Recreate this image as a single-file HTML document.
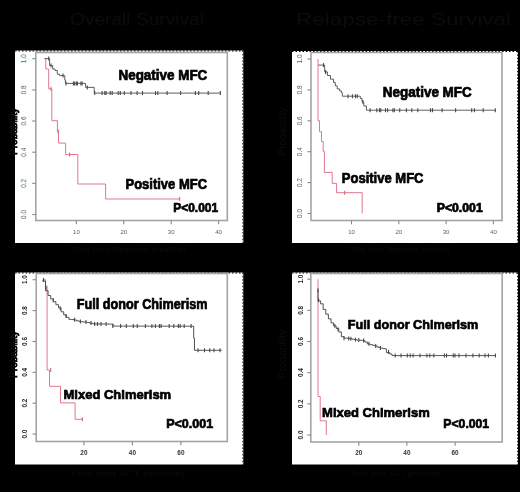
<!DOCTYPE html>
<html><head><meta charset="utf-8"><title>Survival curves</title>
<style>html,body{margin:0;padding:0;background:#000;width:520px;height:492px;overflow:hidden;font-family:"Liberation Sans",sans-serif;}svg{display:block;filter:blur(0.35px);}</style>
</head><body>
<svg width="520" height="492" viewBox="0 0 520 492" font-family="Liberation Sans, sans-serif"><rect x="15.0" y="50.5" width="228.3" height="192.5" fill="#fff"/><line x1="15.0" y1="51.0" x2="243.3" y2="51.0" stroke="#000" stroke-width="1.1" stroke-dasharray="1.6 1.9"/><line x1="242.9" y1="50.5" x2="242.9" y2="243.0" stroke="#000" stroke-width="0.9" stroke-dasharray="1.6 1.7"/><rect x="35.8" y="52.5" width="191.5" height="168.0" fill="none" stroke="#a4a4a4" stroke-width="1.6"/><line x1="32.2" y1="214.5" x2="35.8" y2="214.5" stroke="#888" stroke-width="1.1"/><text transform="translate(25.5 214.5) rotate(-90)" text-anchor="middle" font-size="6.4" fill="#5e5e5e">0.0</text><line x1="32.2" y1="183.3" x2="35.8" y2="183.3" stroke="#888" stroke-width="1.1"/><text transform="translate(25.5 183.3) rotate(-90)" text-anchor="middle" font-size="6.4" fill="#5e5e5e">0.2</text><line x1="32.2" y1="152.2" x2="35.8" y2="152.2" stroke="#888" stroke-width="1.1"/><text transform="translate(25.5 152.2) rotate(-90)" text-anchor="middle" font-size="6.4" fill="#5e5e5e">0.4</text><line x1="32.2" y1="121.0" x2="35.8" y2="121.0" stroke="#888" stroke-width="1.1"/><text transform="translate(25.5 121.0) rotate(-90)" text-anchor="middle" font-size="6.4" fill="#5e5e5e">0.6</text><line x1="32.2" y1="89.9" x2="35.8" y2="89.9" stroke="#888" stroke-width="1.1"/><text transform="translate(25.5 89.9) rotate(-90)" text-anchor="middle" font-size="6.4" fill="#5e5e5e">0.8</text><line x1="32.2" y1="58.7" x2="35.8" y2="58.7" stroke="#888" stroke-width="1.1"/><text transform="translate(25.5 58.7) rotate(-90)" text-anchor="middle" font-size="6.4" fill="#5e5e5e">1.0</text><line x1="76.4" y1="220.5" x2="76.4" y2="224.3" stroke="#888" stroke-width="1.1"/><text x="76.4" y="234.0" text-anchor="middle" font-size="6.0" fill="#5e5e5e">10</text><line x1="123.8" y1="220.5" x2="123.8" y2="224.3" stroke="#888" stroke-width="1.1"/><text x="123.8" y="234.0" text-anchor="middle" font-size="6.0" fill="#5e5e5e">20</text><line x1="171.2" y1="220.5" x2="171.2" y2="224.3" stroke="#888" stroke-width="1.1"/><text x="171.2" y="234.0" text-anchor="middle" font-size="6.0" fill="#5e5e5e">30</text><line x1="218.6" y1="220.5" x2="218.6" y2="224.3" stroke="#888" stroke-width="1.1"/><text x="218.6" y="234.0" text-anchor="middle" font-size="6.0" fill="#5e5e5e">40</text><path d="M44.6 58.6 H45.8 V69.0 H48.7 V88.8 H51.8 V120.7 H57.4 V131.5 H58.5 V143.1 H65.6 V154.5 H77.8 V184.0 H105.6 V199.0 H179.6" fill="none" stroke="#de7286" stroke-width="0.95"/><path d="M44.6 58.6 H49.6 V65.5 H52.7 V69.0 H55.0 V70.5 H57.3 V74.2 H59.6 V75.6 H64.8 V80.0 H65.4 V83.4 H85.6 V87.4 H94.2 V93.1 H221.0" fill="none" stroke="#555555" stroke-width="0.95"/><line x1="48.7" y1="56.6" x2="48.7" y2="60.6" stroke="#4a4a4a" stroke-width="1.1"/><line x1="51.0" y1="63.5" x2="51.0" y2="67.5" stroke="#4a4a4a" stroke-width="1.1"/><line x1="63.0" y1="73.6" x2="63.0" y2="77.6" stroke="#4a4a4a" stroke-width="1.1"/><line x1="66.0" y1="81.4" x2="66.0" y2="85.4" stroke="#4a4a4a" stroke-width="1.1"/><line x1="73.4" y1="81.4" x2="73.4" y2="85.4" stroke="#4a4a4a" stroke-width="1.1"/><line x1="74.6" y1="81.4" x2="74.6" y2="85.4" stroke="#4a4a4a" stroke-width="1.1"/><line x1="76.4" y1="81.4" x2="76.4" y2="85.4" stroke="#4a4a4a" stroke-width="1.1"/><line x1="77.4" y1="81.4" x2="77.4" y2="85.4" stroke="#4a4a4a" stroke-width="1.1"/><line x1="80.9" y1="81.4" x2="80.9" y2="85.4" stroke="#4a4a4a" stroke-width="1.1"/><line x1="82.1" y1="81.4" x2="82.1" y2="85.4" stroke="#4a4a4a" stroke-width="1.1"/><line x1="87.3" y1="85.4" x2="87.3" y2="89.4" stroke="#4a4a4a" stroke-width="1.1"/><line x1="94.7" y1="91.1" x2="94.7" y2="95.1" stroke="#4a4a4a" stroke-width="1.1"/><line x1="102.1" y1="91.1" x2="102.1" y2="95.1" stroke="#4a4a4a" stroke-width="1.1"/><line x1="104.8" y1="91.1" x2="104.8" y2="95.1" stroke="#4a4a4a" stroke-width="1.1"/><line x1="106.1" y1="91.1" x2="106.1" y2="95.1" stroke="#4a4a4a" stroke-width="1.1"/><line x1="110.2" y1="91.1" x2="110.2" y2="95.1" stroke="#4a4a4a" stroke-width="1.1"/><line x1="112.2" y1="91.1" x2="112.2" y2="95.1" stroke="#4a4a4a" stroke-width="1.1"/><line x1="118.2" y1="91.1" x2="118.2" y2="95.1" stroke="#4a4a4a" stroke-width="1.1"/><line x1="120.3" y1="91.1" x2="120.3" y2="95.1" stroke="#4a4a4a" stroke-width="1.1"/><line x1="124.3" y1="91.1" x2="124.3" y2="95.1" stroke="#4a4a4a" stroke-width="1.1"/><line x1="131.0" y1="91.1" x2="131.0" y2="95.1" stroke="#4a4a4a" stroke-width="1.1"/><line x1="137.1" y1="91.1" x2="137.1" y2="95.1" stroke="#4a4a4a" stroke-width="1.1"/><line x1="142.5" y1="91.1" x2="142.5" y2="95.1" stroke="#4a4a4a" stroke-width="1.1"/><line x1="155.5" y1="91.1" x2="155.5" y2="95.1" stroke="#4a4a4a" stroke-width="1.1"/><line x1="157.8" y1="91.1" x2="157.8" y2="95.1" stroke="#4a4a4a" stroke-width="1.1"/><line x1="167.1" y1="91.1" x2="167.1" y2="95.1" stroke="#4a4a4a" stroke-width="1.1"/><line x1="180.6" y1="91.1" x2="180.6" y2="95.1" stroke="#4a4a4a" stroke-width="1.1"/><line x1="195.4" y1="91.1" x2="195.4" y2="95.1" stroke="#4a4a4a" stroke-width="1.1"/><line x1="198.7" y1="91.1" x2="198.7" y2="95.1" stroke="#4a4a4a" stroke-width="1.1"/><line x1="208.2" y1="91.1" x2="208.2" y2="95.1" stroke="#4a4a4a" stroke-width="1.1"/><line x1="220.3" y1="91.1" x2="220.3" y2="95.1" stroke="#4a4a4a" stroke-width="1.1"/><line x1="51.0" y1="86.8" x2="51.0" y2="90.8" stroke="#d06a7e" stroke-width="1.1"/><line x1="58.2" y1="129.5" x2="58.2" y2="133.5" stroke="#d06a7e" stroke-width="1.1"/><line x1="69.6" y1="152.5" x2="69.6" y2="156.5" stroke="#d06a7e" stroke-width="1.1"/><line x1="179.6" y1="197.0" x2="179.6" y2="201.0" stroke="#d06a7e" stroke-width="1.1"/><text x="118.48" y="80.40" font-size="14.00" font-weight="bold" textLength="88.84" lengthAdjust="spacingAndGlyphs" fill="#000" stroke="#000" stroke-width="0.70">Negative MFC</text><text x="125.51" y="188.90" font-size="14.00" font-weight="bold" textLength="81.52" lengthAdjust="spacingAndGlyphs" fill="#000" stroke="#000" stroke-width="0.70">Positive MFC</text><text x="173.27" y="212.00" font-size="12.60" font-weight="bold" textLength="44.82" lengthAdjust="spacingAndGlyphs" fill="#000" stroke="#000" stroke-width="0.70">P&lt;0.001</text><rect x="292.0" y="51.0" width="226.0" height="192.0" fill="#fff"/><line x1="292.0" y1="51.5" x2="518.0" y2="51.5" stroke="#000" stroke-width="1.1" stroke-dasharray="1.6 1.9"/><line x1="517.6" y1="51.0" x2="517.6" y2="243.0" stroke="#000" stroke-width="0.9" stroke-dasharray="1.6 1.7"/><rect x="311.0" y="52.5" width="191.0" height="168.0" fill="none" stroke="#a4a4a4" stroke-width="1.6"/><line x1="307.4" y1="213.5" x2="311.0" y2="213.5" stroke="#888" stroke-width="1.1"/><text transform="translate(301.5 213.5) rotate(-90)" text-anchor="middle" font-size="6.4" fill="#5e5e5e">0.0</text><line x1="307.4" y1="182.6" x2="311.0" y2="182.6" stroke="#888" stroke-width="1.1"/><text transform="translate(301.5 182.6) rotate(-90)" text-anchor="middle" font-size="6.4" fill="#5e5e5e">0.2</text><line x1="307.4" y1="151.7" x2="311.0" y2="151.7" stroke="#888" stroke-width="1.1"/><text transform="translate(301.5 151.7) rotate(-90)" text-anchor="middle" font-size="6.4" fill="#5e5e5e">0.4</text><line x1="307.4" y1="120.8" x2="311.0" y2="120.8" stroke="#888" stroke-width="1.1"/><text transform="translate(301.5 120.8) rotate(-90)" text-anchor="middle" font-size="6.4" fill="#5e5e5e">0.6</text><line x1="307.4" y1="89.9" x2="311.0" y2="89.9" stroke="#888" stroke-width="1.1"/><text transform="translate(301.5 89.9) rotate(-90)" text-anchor="middle" font-size="6.4" fill="#5e5e5e">0.8</text><line x1="307.4" y1="59.0" x2="311.0" y2="59.0" stroke="#888" stroke-width="1.1"/><text transform="translate(301.5 59.0) rotate(-90)" text-anchor="middle" font-size="6.4" fill="#5e5e5e">1.0</text><line x1="351.5" y1="220.5" x2="351.5" y2="224.3" stroke="#888" stroke-width="1.1"/><text x="351.5" y="234.0" text-anchor="middle" font-size="6.0" fill="#5e5e5e">10</text><line x1="398.8" y1="220.5" x2="398.8" y2="224.3" stroke="#888" stroke-width="1.1"/><text x="398.8" y="234.0" text-anchor="middle" font-size="6.0" fill="#5e5e5e">20</text><line x1="446.1" y1="220.5" x2="446.1" y2="224.3" stroke="#888" stroke-width="1.1"/><text x="446.1" y="234.0" text-anchor="middle" font-size="6.0" fill="#5e5e5e">30</text><line x1="493.4" y1="220.5" x2="493.4" y2="224.3" stroke="#888" stroke-width="1.1"/><text x="493.4" y="234.0" text-anchor="middle" font-size="6.0" fill="#5e5e5e">40</text><path d="M318.0 59.0 V120.7 H319.5 V131.7 H321.5 V141.5 H323.2 V151.2 H324.4 V172.4 H332.2 V183.4 H336.6 V192.7 H362.2 V213.4" fill="none" stroke="#de7286" stroke-width="0.95"/><path d="M318.3 65.1 H324.7 V71.9 H327.4 V75.5 H330.5 V79.2 H333.5 V82.5 H335.3 V85.9 H337.2 V88.9 H339.6 V90.8 H341.4 V92.6 H342.3 V96.2 H360.3 V98.5 H362.0 V101.7 H363.8 V106.0 H366.4 V110.2 H496.0" fill="none" stroke="#555555" stroke-width="0.95"/><line x1="323.5" y1="63.1" x2="323.5" y2="67.1" stroke="#4a4a4a" stroke-width="1.1"/><line x1="325.6" y1="70.0" x2="325.6" y2="74.0" stroke="#4a4a4a" stroke-width="1.1"/><line x1="348.1" y1="94.2" x2="348.1" y2="98.2" stroke="#4a4a4a" stroke-width="1.1"/><line x1="352.4" y1="94.2" x2="352.4" y2="98.2" stroke="#4a4a4a" stroke-width="1.1"/><line x1="355.5" y1="94.2" x2="355.5" y2="98.2" stroke="#4a4a4a" stroke-width="1.1"/><line x1="357.3" y1="94.2" x2="357.3" y2="98.2" stroke="#4a4a4a" stroke-width="1.1"/><line x1="362.8" y1="99.7" x2="362.8" y2="103.7" stroke="#4a4a4a" stroke-width="1.1"/><line x1="370.1" y1="108.2" x2="370.1" y2="112.2" stroke="#4a4a4a" stroke-width="1.1"/><line x1="376.8" y1="108.2" x2="376.8" y2="112.2" stroke="#4a4a4a" stroke-width="1.1"/><line x1="379.5" y1="108.2" x2="379.5" y2="112.2" stroke="#4a4a4a" stroke-width="1.1"/><line x1="380.8" y1="108.2" x2="380.8" y2="112.2" stroke="#4a4a4a" stroke-width="1.1"/><line x1="385.5" y1="108.2" x2="385.5" y2="112.2" stroke="#4a4a4a" stroke-width="1.1"/><line x1="387.6" y1="108.2" x2="387.6" y2="112.2" stroke="#4a4a4a" stroke-width="1.1"/><line x1="392.9" y1="108.2" x2="392.9" y2="112.2" stroke="#4a4a4a" stroke-width="1.1"/><line x1="394.3" y1="108.2" x2="394.3" y2="112.2" stroke="#4a4a4a" stroke-width="1.1"/><line x1="399.7" y1="108.2" x2="399.7" y2="112.2" stroke="#4a4a4a" stroke-width="1.1"/><line x1="406.4" y1="108.2" x2="406.4" y2="112.2" stroke="#4a4a4a" stroke-width="1.1"/><line x1="411.8" y1="108.2" x2="411.8" y2="112.2" stroke="#4a4a4a" stroke-width="1.1"/><line x1="417.8" y1="108.2" x2="417.8" y2="112.2" stroke="#4a4a4a" stroke-width="1.1"/><line x1="430.5" y1="108.2" x2="430.5" y2="112.2" stroke="#4a4a4a" stroke-width="1.1"/><line x1="432.5" y1="108.2" x2="432.5" y2="112.2" stroke="#4a4a4a" stroke-width="1.1"/><line x1="442.1" y1="108.2" x2="442.1" y2="112.2" stroke="#4a4a4a" stroke-width="1.1"/><line x1="455.6" y1="108.2" x2="455.6" y2="112.2" stroke="#4a4a4a" stroke-width="1.1"/><line x1="471.7" y1="108.2" x2="471.7" y2="112.2" stroke="#4a4a4a" stroke-width="1.1"/><line x1="474.4" y1="108.2" x2="474.4" y2="112.2" stroke="#4a4a4a" stroke-width="1.1"/><line x1="483.2" y1="108.2" x2="483.2" y2="112.2" stroke="#4a4a4a" stroke-width="1.1"/><line x1="495.3" y1="108.2" x2="495.3" y2="112.2" stroke="#4a4a4a" stroke-width="1.1"/><line x1="344.6" y1="190.7" x2="344.6" y2="194.7" stroke="#d06a7e" stroke-width="1.1"/><text x="382.78" y="96.70" font-size="14.00" font-weight="bold" textLength="88.99" lengthAdjust="spacingAndGlyphs" fill="#000" stroke="#000" stroke-width="0.70">Negative MFC</text><text x="341.80" y="182.90" font-size="14.00" font-weight="bold" textLength="81.72" lengthAdjust="spacingAndGlyphs" fill="#000" stroke="#000" stroke-width="0.70">Positive MFC</text><text x="436.75" y="211.90" font-size="12.20" font-weight="bold" textLength="45.94" lengthAdjust="spacingAndGlyphs" fill="#000" stroke="#000" stroke-width="0.70">P&lt;0.001</text><rect x="15.0" y="272.5" width="228.3" height="192.0" fill="#fff"/><line x1="15.0" y1="273.0" x2="243.3" y2="273.0" stroke="#000" stroke-width="1.1" stroke-dasharray="1.6 1.9"/><line x1="242.9" y1="272.5" x2="242.9" y2="464.5" stroke="#000" stroke-width="0.9" stroke-dasharray="1.6 1.7"/><rect x="36.2" y="273.5" width="191.1" height="168.0" fill="none" stroke="#a4a4a4" stroke-width="1.6"/><line x1="32.6" y1="434.1" x2="36.2" y2="434.1" stroke="#888" stroke-width="1.1"/><text transform="translate(27.4 434.1) rotate(-90)" text-anchor="middle" font-size="7.8" font-weight="bold" textLength="8.8" lengthAdjust="spacingAndGlyphs" fill="#222">0.0</text><line x1="32.6" y1="403.2" x2="36.2" y2="403.2" stroke="#888" stroke-width="1.1"/><text transform="translate(27.4 403.2) rotate(-90)" text-anchor="middle" font-size="7.8" font-weight="bold" textLength="8.8" lengthAdjust="spacingAndGlyphs" fill="#222">0.2</text><line x1="32.6" y1="372.3" x2="36.2" y2="372.3" stroke="#888" stroke-width="1.1"/><text transform="translate(27.4 372.3) rotate(-90)" text-anchor="middle" font-size="7.8" font-weight="bold" textLength="8.8" lengthAdjust="spacingAndGlyphs" fill="#222">0.4</text><line x1="32.6" y1="341.5" x2="36.2" y2="341.5" stroke="#888" stroke-width="1.1"/><text transform="translate(27.4 341.5) rotate(-90)" text-anchor="middle" font-size="7.8" font-weight="bold" textLength="8.8" lengthAdjust="spacingAndGlyphs" fill="#222">0.6</text><line x1="32.6" y1="310.6" x2="36.2" y2="310.6" stroke="#888" stroke-width="1.1"/><text transform="translate(27.4 310.6) rotate(-90)" text-anchor="middle" font-size="7.8" font-weight="bold" textLength="8.8" lengthAdjust="spacingAndGlyphs" fill="#222">0.8</text><line x1="32.6" y1="279.7" x2="36.2" y2="279.7" stroke="#888" stroke-width="1.1"/><text transform="translate(27.4 279.7) rotate(-90)" text-anchor="middle" font-size="7.8" font-weight="bold" textLength="8.8" lengthAdjust="spacingAndGlyphs" fill="#222">1.0</text><line x1="83.9" y1="441.5" x2="83.9" y2="445.3" stroke="#888" stroke-width="1.1"/><text x="83.9" y="454.9" text-anchor="middle" font-size="6.4" font-weight="bold" fill="#333">20</text><line x1="132.4" y1="441.5" x2="132.4" y2="445.3" stroke="#888" stroke-width="1.1"/><text x="132.4" y="454.9" text-anchor="middle" font-size="6.4" font-weight="bold" fill="#333">40</text><line x1="180.9" y1="441.5" x2="180.9" y2="445.3" stroke="#888" stroke-width="1.1"/><text x="180.9" y="454.9" text-anchor="middle" font-size="6.4" font-weight="bold" fill="#333">60</text><path d="M42.9 279.7 H45.5 V286.0 H47.1 V370.0 H49.5 V386.3 H60.5 V402.9 H75.1 V419.3 H82.4" fill="none" stroke="#de7286" stroke-width="0.95"/><path d="M42.90 280.00 V281.15 H45.50 V290.76 H48.10 V295.50 H50.70 V298.90 H53.30 V301.69 H55.90 V304.69 H58.50 V307.82 H61.10 V311.79 H63.70 V314.86 H66.30 V317.31 H68.90 V319.32 H71.50 V319.60 H74.10 V320.05 H76.70 V320.86 H79.30 V321.62 H81.90 V321.85 H84.50 V322.07 H87.10 V322.58 H89.70 V323.11 H92.30 V323.68 H94.90 V323.92 H97.50 V323.95 H100.10 V323.98 H102.70 V324.01 H105.30 V324.04 H107.90 V324.07 H110.50 V324.10 H113.10 V326.10 H115.70 V326.11 H118.30 V326.11 H120.90 V326.11 H123.50 V326.12 H126.10 V326.12 H128.70 V326.12 H131.30 V326.12 H133.90 V326.13 H136.50 V326.13 H139.10 V326.13 H141.70 V326.14 H144.30 V326.14 H146.90 V326.14 H149.50 V326.15 H152.10 V326.15 H154.70 V326.15 H157.30 V326.16 H159.90 V326.16 H162.50 V326.16 H165.10 V326.17 H167.70 V326.17 H170.30 V326.17 H172.90 V326.18 H175.50 V326.18 H178.10 V326.18 H180.70 V326.19 H183.30 V326.19 H185.90 V326.19 H188.50 V326.20 H191.10 V326.20 H193.70 V326.20 H193.70 V326.20 V338.2 H194.5 V350.3 H221.8" fill="none" stroke="#4a4a4a" stroke-width="0.95"/><line x1="43.5" y1="278.0" x2="43.5" y2="282.0" stroke="#4a4a4a" stroke-width="1.1"/><line x1="46.0" y1="286.5" x2="46.0" y2="290.5" stroke="#4a4a4a" stroke-width="1.1"/><line x1="53.3" y1="298.2" x2="53.3" y2="302.2" stroke="#4a4a4a" stroke-width="1.1"/><line x1="60.2" y1="306.3" x2="60.2" y2="310.3" stroke="#4a4a4a" stroke-width="1.1"/><line x1="66.0" y1="314.0" x2="66.0" y2="318.0" stroke="#4a4a4a" stroke-width="1.1"/><line x1="74.6" y1="317.8" x2="74.6" y2="321.8" stroke="#4a4a4a" stroke-width="1.1"/><line x1="80.4" y1="319.6" x2="80.4" y2="323.6" stroke="#4a4a4a" stroke-width="1.1"/><line x1="86.0" y1="320.1" x2="86.0" y2="324.1" stroke="#4a4a4a" stroke-width="1.1"/><line x1="91.0" y1="321.0" x2="91.0" y2="325.0" stroke="#4a4a4a" stroke-width="1.1"/><line x1="94.6" y1="322.0" x2="94.6" y2="326.0" stroke="#4a4a4a" stroke-width="1.1"/><line x1="97.5" y1="322.0" x2="97.5" y2="326.0" stroke="#4a4a4a" stroke-width="1.1"/><line x1="101.0" y1="322.0" x2="101.0" y2="326.0" stroke="#4a4a4a" stroke-width="1.1"/><line x1="106.1" y1="322.0" x2="106.1" y2="326.0" stroke="#4a4a4a" stroke-width="1.1"/><line x1="112.8" y1="324.1" x2="112.8" y2="328.1" stroke="#4a4a4a" stroke-width="1.1"/><line x1="120.6" y1="324.1" x2="120.6" y2="328.1" stroke="#4a4a4a" stroke-width="1.1"/><line x1="126.3" y1="324.1" x2="126.3" y2="328.1" stroke="#4a4a4a" stroke-width="1.1"/><line x1="133.3" y1="324.1" x2="133.3" y2="328.1" stroke="#4a4a4a" stroke-width="1.1"/><line x1="137.3" y1="324.1" x2="137.3" y2="328.1" stroke="#4a4a4a" stroke-width="1.1"/><line x1="145.4" y1="324.1" x2="145.4" y2="328.1" stroke="#4a4a4a" stroke-width="1.1"/><line x1="151.9" y1="324.1" x2="151.9" y2="328.1" stroke="#4a4a4a" stroke-width="1.1"/><line x1="155.4" y1="324.1" x2="155.4" y2="328.1" stroke="#4a4a4a" stroke-width="1.1"/><line x1="159.4" y1="324.1" x2="159.4" y2="328.1" stroke="#4a4a4a" stroke-width="1.1"/><line x1="161.1" y1="324.1" x2="161.1" y2="328.1" stroke="#4a4a4a" stroke-width="1.1"/><line x1="169.2" y1="324.1" x2="169.2" y2="328.1" stroke="#4a4a4a" stroke-width="1.1"/><line x1="173.8" y1="324.1" x2="173.8" y2="328.1" stroke="#4a4a4a" stroke-width="1.1"/><line x1="178.4" y1="324.1" x2="178.4" y2="328.1" stroke="#4a4a4a" stroke-width="1.1"/><line x1="180.2" y1="324.1" x2="180.2" y2="328.1" stroke="#4a4a4a" stroke-width="1.1"/><line x1="184.2" y1="324.1" x2="184.2" y2="328.1" stroke="#4a4a4a" stroke-width="1.1"/><line x1="191.1" y1="324.1" x2="191.1" y2="328.1" stroke="#4a4a4a" stroke-width="1.1"/><line x1="198.0" y1="348.3" x2="198.0" y2="352.3" stroke="#4a4a4a" stroke-width="1.1"/><line x1="204.5" y1="348.3" x2="204.5" y2="352.3" stroke="#4a4a4a" stroke-width="1.1"/><line x1="209.7" y1="348.3" x2="209.7" y2="352.3" stroke="#4a4a4a" stroke-width="1.1"/><line x1="214.0" y1="348.3" x2="214.0" y2="352.3" stroke="#4a4a4a" stroke-width="1.1"/><line x1="220.0" y1="348.3" x2="220.0" y2="352.3" stroke="#4a4a4a" stroke-width="1.1"/><line x1="50.7" y1="368.0" x2="50.7" y2="372.0" stroke="#d06a7e" stroke-width="1.1"/><line x1="82.4" y1="417.3" x2="82.4" y2="421.3" stroke="#d06a7e" stroke-width="1.1"/><text x="76.83" y="308.60" font-size="14.00" font-weight="bold" textLength="130.73" lengthAdjust="spacingAndGlyphs" fill="#000" stroke="#000" stroke-width="0.70">Full donor Chimerism</text><text x="63.50" y="398.50" font-size="13.30" font-weight="bold" textLength="107.69" lengthAdjust="spacingAndGlyphs" fill="#000" stroke="#000" stroke-width="0.70">Mixed Chimerism</text><text x="166.24" y="427.60" font-size="12.70" font-weight="bold" textLength="46.87" lengthAdjust="spacingAndGlyphs" fill="#000" stroke="#000" stroke-width="0.70">P&lt;0.001</text><rect x="292.0" y="272.5" width="226.0" height="192.0" fill="#fff"/><line x1="292.0" y1="273.0" x2="518.0" y2="273.0" stroke="#000" stroke-width="1.1" stroke-dasharray="1.6 1.9"/><line x1="517.6" y1="272.5" x2="517.6" y2="464.5" stroke="#000" stroke-width="0.9" stroke-dasharray="1.6 1.7"/><rect x="310.8" y="273.5" width="191.4" height="168.5" fill="none" stroke="#a4a4a4" stroke-width="1.6"/><line x1="307.2" y1="435.0" x2="310.8" y2="435.0" stroke="#888" stroke-width="1.1"/><text transform="translate(302.8 435.0) rotate(-90)" text-anchor="middle" font-size="7.8" font-weight="bold" textLength="8.8" lengthAdjust="spacingAndGlyphs" fill="#222">0.0</text><line x1="307.2" y1="403.8" x2="310.8" y2="403.8" stroke="#888" stroke-width="1.1"/><text transform="translate(302.8 403.8) rotate(-90)" text-anchor="middle" font-size="7.8" font-weight="bold" textLength="8.8" lengthAdjust="spacingAndGlyphs" fill="#222">0.2</text><line x1="307.2" y1="372.7" x2="310.8" y2="372.7" stroke="#888" stroke-width="1.1"/><text transform="translate(302.8 372.7) rotate(-90)" text-anchor="middle" font-size="7.8" font-weight="bold" textLength="8.8" lengthAdjust="spacingAndGlyphs" fill="#222">0.4</text><line x1="307.2" y1="341.5" x2="310.8" y2="341.5" stroke="#888" stroke-width="1.1"/><text transform="translate(302.8 341.5) rotate(-90)" text-anchor="middle" font-size="7.8" font-weight="bold" textLength="8.8" lengthAdjust="spacingAndGlyphs" fill="#222">0.6</text><line x1="307.2" y1="310.4" x2="310.8" y2="310.4" stroke="#888" stroke-width="1.1"/><text transform="translate(302.8 310.4) rotate(-90)" text-anchor="middle" font-size="7.8" font-weight="bold" textLength="8.8" lengthAdjust="spacingAndGlyphs" fill="#222">0.8</text><line x1="307.2" y1="279.2" x2="310.8" y2="279.2" stroke="#888" stroke-width="1.1"/><text transform="translate(302.8 279.2) rotate(-90)" text-anchor="middle" font-size="7.8" font-weight="bold" textLength="8.8" lengthAdjust="spacingAndGlyphs" fill="#222">1.0</text><line x1="358.8" y1="442.0" x2="358.8" y2="445.8" stroke="#888" stroke-width="1.1"/><text x="358.8" y="455.4" text-anchor="middle" font-size="6.4" font-weight="bold" fill="#333">20</text><line x1="406.9" y1="442.0" x2="406.9" y2="445.8" stroke="#888" stroke-width="1.1"/><text x="406.9" y="455.4" text-anchor="middle" font-size="6.4" font-weight="bold" fill="#333">40</text><line x1="455.1" y1="442.0" x2="455.1" y2="445.8" stroke="#888" stroke-width="1.1"/><text x="455.1" y="455.4" text-anchor="middle" font-size="6.4" font-weight="bold" fill="#333">60</text><path d="M318.0 279.2 V396.5 H320.2 V420.8 H326.3 V435.0" fill="none" stroke="#de7286" stroke-width="0.95"/><path d="M318.00 290.20 V300.88 H320.60 V303.82 H323.20 V309.45 H325.80 V314.19 H328.40 V318.82 H331.00 V322.81 H333.60 V325.90 H336.20 V328.50 H338.80 V331.97 H341.40 V336.67 H344.00 V338.08 H346.60 V338.31 H349.20 V338.61 H351.80 V339.16 H354.40 V339.72 H357.00 V340.09 H359.60 V340.27 H362.20 V340.45 H364.80 V342.03 H367.40 V343.91 H370.00 V344.65 H372.60 V345.39 H375.20 V346.24 H377.80 V347.35 H380.40 V348.14 H383.00 V348.62 H385.60 V349.00 H386.40 V349.00 V352.6 H389.8 V354 H392 V355.6 H495.5" fill="none" stroke="#4a4a4a" stroke-width="0.95"/><line x1="318.0" y1="288.3" x2="318.0" y2="292.3" stroke="#4a4a4a" stroke-width="1.1"/><line x1="318.6" y1="298.2" x2="318.6" y2="302.2" stroke="#4a4a4a" stroke-width="1.1"/><line x1="334.8" y1="323.8" x2="334.8" y2="327.8" stroke="#4a4a4a" stroke-width="1.1"/><line x1="338.0" y1="327.3" x2="338.0" y2="331.3" stroke="#4a4a4a" stroke-width="1.1"/><line x1="344.0" y1="336.3" x2="344.0" y2="340.3" stroke="#4a4a4a" stroke-width="1.1"/><line x1="348.7" y1="336.6" x2="348.7" y2="340.6" stroke="#4a4a4a" stroke-width="1.1"/><line x1="350.8" y1="336.8" x2="350.8" y2="340.8" stroke="#4a4a4a" stroke-width="1.1"/><line x1="355.5" y1="337.6" x2="355.5" y2="341.6" stroke="#4a4a4a" stroke-width="1.1"/><line x1="358.8" y1="338.1" x2="358.8" y2="342.1" stroke="#4a4a4a" stroke-width="1.1"/><line x1="363.6" y1="338.5" x2="363.6" y2="342.5" stroke="#4a4a4a" stroke-width="1.1"/><line x1="368.9" y1="341.8" x2="368.9" y2="345.8" stroke="#4a4a4a" stroke-width="1.1"/><line x1="375.7" y1="343.9" x2="375.7" y2="347.9" stroke="#4a4a4a" stroke-width="1.1"/><line x1="380.4" y1="345.9" x2="380.4" y2="349.9" stroke="#4a4a4a" stroke-width="1.1"/><line x1="388.5" y1="349.9" x2="388.5" y2="353.9" stroke="#4a4a4a" stroke-width="1.1"/><line x1="395.2" y1="353.6" x2="395.2" y2="357.6" stroke="#4a4a4a" stroke-width="1.1"/><line x1="401.0" y1="353.6" x2="401.0" y2="357.6" stroke="#4a4a4a" stroke-width="1.1"/><line x1="407.3" y1="353.6" x2="407.3" y2="357.6" stroke="#4a4a4a" stroke-width="1.1"/><line x1="410.2" y1="353.6" x2="410.2" y2="357.6" stroke="#4a4a4a" stroke-width="1.1"/><line x1="413.1" y1="353.6" x2="413.1" y2="357.6" stroke="#4a4a4a" stroke-width="1.1"/><line x1="420.0" y1="353.6" x2="420.0" y2="357.6" stroke="#4a4a4a" stroke-width="1.1"/><line x1="426.9" y1="353.6" x2="426.9" y2="357.6" stroke="#4a4a4a" stroke-width="1.1"/><line x1="429.8" y1="353.6" x2="429.8" y2="357.6" stroke="#4a4a4a" stroke-width="1.1"/><line x1="433.8" y1="353.6" x2="433.8" y2="357.6" stroke="#4a4a4a" stroke-width="1.1"/><line x1="444.4" y1="353.6" x2="444.4" y2="357.6" stroke="#4a4a4a" stroke-width="1.1"/><line x1="446.5" y1="353.6" x2="446.5" y2="357.6" stroke="#4a4a4a" stroke-width="1.1"/><line x1="453.3" y1="353.6" x2="453.3" y2="357.6" stroke="#4a4a4a" stroke-width="1.1"/><line x1="455.0" y1="353.6" x2="455.0" y2="357.6" stroke="#4a4a4a" stroke-width="1.1"/><line x1="459.0" y1="353.6" x2="459.0" y2="357.6" stroke="#4a4a4a" stroke-width="1.1"/><line x1="466.0" y1="353.6" x2="466.0" y2="357.6" stroke="#4a4a4a" stroke-width="1.1"/><line x1="472.9" y1="353.6" x2="472.9" y2="357.6" stroke="#4a4a4a" stroke-width="1.1"/><line x1="479.2" y1="353.6" x2="479.2" y2="357.6" stroke="#4a4a4a" stroke-width="1.1"/><line x1="485.0" y1="353.6" x2="485.0" y2="357.6" stroke="#4a4a4a" stroke-width="1.1"/><line x1="488.4" y1="353.6" x2="488.4" y2="357.6" stroke="#4a4a4a" stroke-width="1.1"/><line x1="495.4" y1="353.6" x2="495.4" y2="357.6" stroke="#4a4a4a" stroke-width="1.1"/><text x="347.83" y="329.00" font-size="13.60" font-weight="bold" textLength="130.53" lengthAdjust="spacingAndGlyphs" fill="#000" stroke="#000" stroke-width="0.70">Full donor Chimerism</text><text x="322.10" y="417.00" font-size="13.50" font-weight="bold" textLength="107.69" lengthAdjust="spacingAndGlyphs" fill="#000" stroke="#000" stroke-width="0.70">Mixed Chimerism</text><text x="443.36" y="427.60" font-size="12.30" font-weight="bold" textLength="45.74" lengthAdjust="spacingAndGlyphs" fill="#000" stroke="#000" stroke-width="0.70">P&lt;0.001</text><text x="70" y="25" font-size="16" fill="#0c0c0c" textLength="134" lengthAdjust="spacingAndGlyphs">Overall Survival</text><text x="296" y="25" font-size="16" fill="#0c0c0c" textLength="215" lengthAdjust="spacingAndGlyphs">Relapse-free Survival</text><text x="71" y="252" font-size="8" fill="#0c0c0c" textLength="115" lengthAdjust="spacingAndGlyphs">Time from diagnosis (months)</text><text x="70" y="476" font-size="8" fill="#0c0c0c" textLength="114" lengthAdjust="spacingAndGlyphs">Time after SCT (months)</text><text x="350" y="252" font-size="8" fill="#0c0c0c" textLength="100" lengthAdjust="spacingAndGlyphs">Time from diagnosis (months)</text><text x="350" y="476" font-size="8" fill="#0c0c0c" textLength="90" lengthAdjust="spacingAndGlyphs">Time after SCT (months)</text><defs><clipPath id="cw"><rect x="15" y="0" width="20" height="492"/></clipPath><clipPath id="cb"><rect x="0" y="0" width="15" height="492"/></clipPath></defs><g clip-path="url(#cb)"><text transform="translate(16.7 131.5) rotate(-90)" text-anchor="middle" font-size="11" fill="#101010" textLength="47" lengthAdjust="spacingAndGlyphs">Probability</text></g><g clip-path="url(#cw)"><text transform="translate(16.7 131.5) rotate(-90)" text-anchor="middle" font-size="11" fill="#000" stroke="#000" stroke-width="0.9" textLength="47" lengthAdjust="spacingAndGlyphs">Probability</text></g><g clip-path="url(#cb)"><text transform="translate(16.7 354.4) rotate(-90)" text-anchor="middle" font-size="11" fill="#101010" textLength="47" lengthAdjust="spacingAndGlyphs">Probability</text></g><g clip-path="url(#cw)"><text transform="translate(16.7 354.4) rotate(-90)" text-anchor="middle" font-size="11" fill="#000" stroke="#000" stroke-width="0.9" textLength="47" lengthAdjust="spacingAndGlyphs">Probability</text></g><text transform="translate(286.0 131.5) rotate(-90)" text-anchor="middle" font-size="11" fill="#0c0c0c" textLength="49" lengthAdjust="spacingAndGlyphs">Probability</text><text transform="translate(286.0 354.0) rotate(-90)" text-anchor="middle" font-size="11" fill="#0c0c0c" textLength="49" lengthAdjust="spacingAndGlyphs">Probability</text></svg>
</body></html>
